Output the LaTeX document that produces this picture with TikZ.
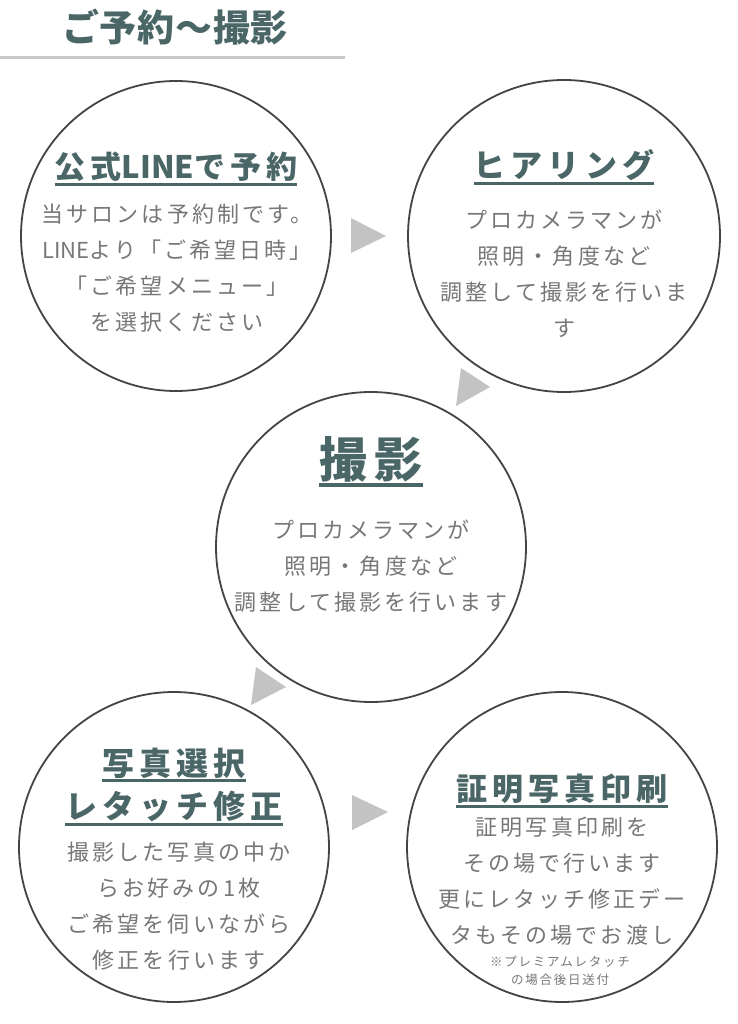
\documentclass[tikz,border=0pt]{standalone}
\usepackage{fontspec}
\newfontfamily\jp[LetterSpace=14]{Noto Sans CJK JP}
\newfontfamily\jpb[LetterSpace=16]{Noto Sans CJK JP}
\newfontfamily\jpt[LetterSpace=2]{Noto Sans CJK JP}
\newfontfamily\jpn{Noto Sans CJK JP}
\definecolor{headc}{HTML}{4B6667}
\definecolor{bodyc}{HTML}{777777}
\definecolor{ringc}{HTML}{444444}
\definecolor{tric}{HTML}{C2C3C2}
\definecolor{rulec}{HTML}{C8C8C8}
\tikzset{
  ring/.style={circle,draw=ringc,line width=1.8pt,minimum size=310pt,inner sep=0pt},
  tri/.style={fill=tric,draw=none},
  head/.style={inner sep=0pt,anchor=base,text=headc,font=\jpb\bfseries\fontsize{32}{36}\selectfont},
  bodytxt/.style={inner sep=0pt,align=center,text=bodyc,font=\jp\fontsize{22}{36}\selectfont},
  ulh/.style={draw=headc,line width=3pt},
}
\begin{document}
\begin{tikzpicture}[x=1pt,y=-1pt]
\useasboundingbox[fill=white] (0,0) rectangle (737,1024);
% title
\node[inner sep=0pt,anchor=base,text=headc,font=\jpt\bfseries\fontsize{37}{40}\selectfont] (title) at (175,42) {ご予約〜撮影};
\coordinate (rl) at (0,57.5);
\coordinate (rr) at (345,57.5);
\draw[draw=rulec,line width=3pt] (rl) -- (rr);
% circles
\node[ring] (c1) at (176,236) {};
\node[ring,minimum size=312pt] (c2) at (564,236) {};
\node[ring] (c3) at (371,547) {};
\node[ring] (c4) at (174,847) {};
\node[ring] (c5) at (562,847) {};
% triangles
\fill[tri] (351,218) -- (386,236) -- (351,253) -- cycle;
\fill[tri] (461,368) -- (490,387) -- (456,406) -- cycle;
\fill[tri] (256,667) -- (286,687) -- (251,705) -- cycle;
\fill[tri] (352,795) -- (388,812) -- (352,830) -- cycle;
% headings
\node[head,font=\jpb\bfseries\fontsize{31}{36}\selectfont] (h1) at (176,179) {公式{\jpn\bfseries LINE}で予約};
\draw[ulh] ([yshift=-6pt]h1.base west) -- ([yshift=-6pt]h1.base east);
\node[head] (h2) at (564,178) {ヒアリング};
\draw[ulh] ([yshift=-6pt]h2.base west) -- ([yshift=-6pt]h2.base east);
\node[head,font=\jpb\bfseries\fontsize{48}{50}\selectfont] (h3) at (371,477) {撮影};
\draw[ulh,line width=4pt] ([yshift=-8pt]h3.base west) -- ([yshift=-8pt]h3.base east);
\node[head] (h4a) at (174,775) {写真選択};
\draw[ulh] ([yshift=-5pt]h4a.base west) -- ([yshift=-5pt]h4a.base east);
\node[head] (h4b) at (174,818) {レタッチ修正};
\draw[ulh] ([yshift=-6pt]h4b.base west) -- ([yshift=-6pt]h4b.base east);
\node[head,font=\jpb\bfseries\fontsize{31}{36}\selectfont] (h5) at (562,800) {証明写真印刷};
\draw[ulh] ([yshift=-6pt]h5.base west) -- ([yshift=-6pt]h5.base east);
% body texts
\node[bodytxt] (b1) at (177,268.5) {当サロンは予約制です。\\{\jpn LINE}より「ご希望日時」\\「ご希望メニュー」\\を選択ください};
\node[bodytxt] (b2) at (564,274) {プロカメラマンが\\照明・角度など\\調整して撮影を行いま\\す};
\node[bodytxt] (b3) at (371,566) {プロカメラマンが\\照明・角度など\\調整して撮影を行います};
\node[bodytxt] (b4) at (179,906.5) {撮影した写真の中か\\らお好みの1枚\\ご希望を伺いながら\\修正を行います};
\node[bodytxt] (b5) at (562,881) {証明写真印刷を\\その場で行います\\更にレタッチ修正デー\\タもその場でお渡し};
\node[bodytxt,font=\jp\fontsize{12.5}{18}\selectfont] (b5s) at (560,971) {※プレミアムレタッチ\\の場合後日送付};
\end{tikzpicture}
\end{document}
